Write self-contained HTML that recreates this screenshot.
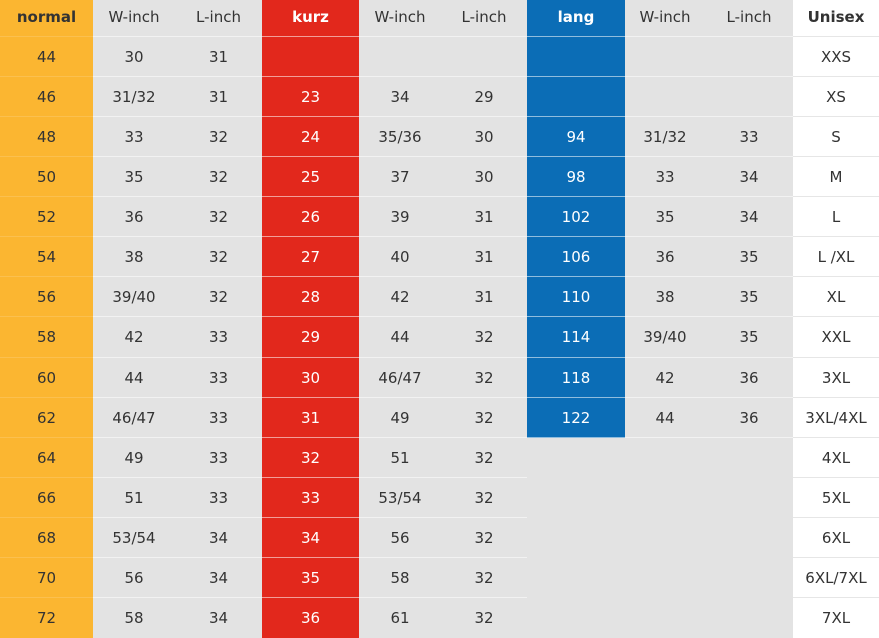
<!DOCTYPE html>
<html><head><meta charset="utf-8"><style>
body{margin:0;width:879px;height:638px;overflow:hidden;background:#e3e3e3;font-family:"DejaVu Sans","Liberation Sans",sans-serif;}
#t{position:relative;width:879px;height:638px;}
.c{position:absolute;display:flex;align-items:center;justify-content:center;font-size:15px;color:#333;box-sizing:border-box;}
.bg{position:absolute;}
</style></head><body>
<div id="t"></div>
<script>
const normal=["44","46","48","50","52","54","56","58","60","62","64","66","68","70","72"];
const nW=["30","31/32","33","35","36","38","39/40","42","44","46/47","49","51","53/54","56","58"];
const nL=["31","31","32","32","32","32","32","33","33","33","33","33","34","34","34"];
const kurz=["","23","24","25","26","27","28","29","30","31","32","33","34","35","36"];
const kW=["","34","35/36","37","39","40","42","44","46/47","49","51","53/54","56","58","61"];
const kL=["","29","30","30","31","31","31","32","32","32","32","32","32","32","32"];
const lang=["","","94","98","102","106","110","114","118","122"];
const lW=["","","31/32","33","35","36","38","39/40","42","44"];
const lL=["","","33","34","34","35","35","35","36","36"];
const unisex=["XXS","XS","S","M","L","L /XL","XL","XXL","3XL","3XL/4XL","4XL","5XL","6XL","6XL/7XL","7XL"];
const t=document.getElementById('t');
const edges=[0,93,175,262,359,441,527,625,705,793,879];
const heads=["normal","W-inch","L-inch","kurz","W-inch","L-inch","lang","W-inch","L-inch","Unisex"];
const cols=[normal,nW,nL,kurz,kW,kL,lang,lW,lL,unisex];
const colNames=["normal","normal-w-inch","normal-l-inch","kurz","kurz-w-inch","kurz-l-inch","lang","lang-w-inch","lang-l-inch","unisex"];
function rowTop(i){return 37+i*40.07;}
function bg(x,y,w,h,col){const d=document.createElement('div');d.className='bg';d.style.cssText=`left:${x}px;top:${y}px;width:${w}px;height:${h}px;background:${col}`;


t.appendChild(d);}
bg(0,0,93,638,'#fbb631');
bg(262,0,97,638,'#e2281c');
bg(527,0,98,rowTop(10),'#0b6db6');
bg(793,0,86,638,'#ffffff');
// row separator lines
for(let i=0;i<15;i++){
  const y=rowTop(i);
  for(let c=0;c<10;c++){
    const d=document.createElement('div');d.className='bg';
    let col='rgba(255,255,255,0.55)';
    if(c==9)col='#e6e6e6';
    if(c==0)col='rgba(255,255,255,0.15)';
    if(c>=6&&c<=8&&i>10)continue;
    d.style.cssText=`left:${edges[c]}px;top:${y-1}px;width:${edges[c+1]-edges[c]}px;height:1px;background:${col}`;
    
    
    t.appendChild(d);
  }
}
for(let c=0;c<10;c++){
  const h=document.createElement('div');h.className='c';
  const colored=(c==3||c==6);
  h.style.cssText=`left:${edges[c]}px;top:0;width:${edges[c+1]-edges[c]}px;height:34px;font-size:15px;${(c%3==0)?'font-weight:bold;':''}color:${colored?'#fff':'#333'}`;
  h.textContent=heads[c];
  
  
  t.appendChild(h);
  cols[c].forEach((v,i)=>{
    if(v==='')return;
    const d=document.createElement('div');d.className='c';
    d.style.cssText=`left:${edges[c]}px;top:${rowTop(i)}px;width:${edges[c+1]-edges[c]}px;height:40px;color:${colored?'#fff':'#333'}`;
    d.textContent=v;
    
    
    t.appendChild(d);
  });
}
</script>
</body></html>
